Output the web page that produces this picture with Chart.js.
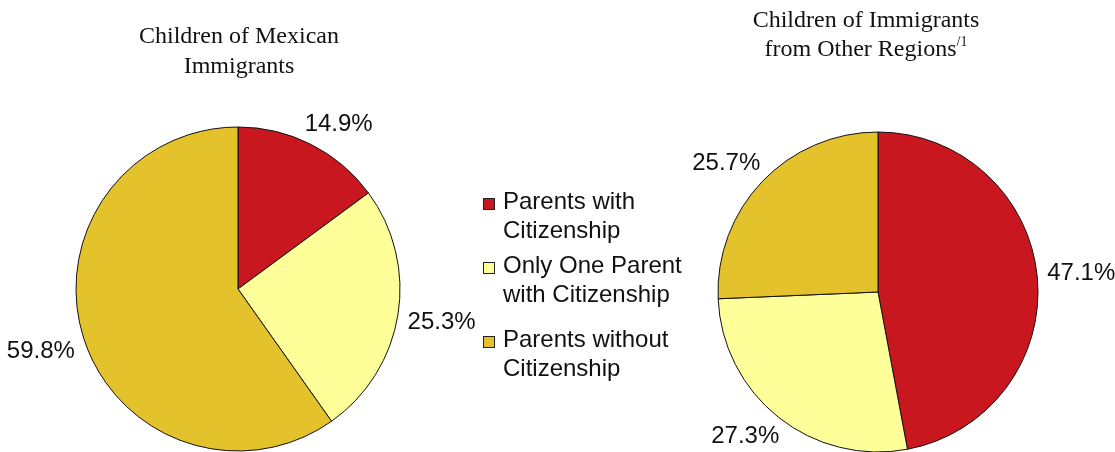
<!DOCTYPE html>
<html>
<head>
<meta charset="utf-8">
<script src="https://cdn.jsdelivr.net/npm/chart.js@4.4.1/dist/chart.umd.min.js"></script>
<style>
  html, body { margin: 0; padding: 0; background: #fff; }
  #wrap { position: relative; width: 1115px; height: 452px; overflow: hidden; }
  #wrap canvas { position: absolute; left: 0; top: 0; }
  .title {
    position: absolute; width: 400px; text-align: center;
    font-family: "Liberation Serif", "Times New Roman", serif; font-size: 24px; color: #111;
  }
  .title sup { font-size: 14px; vertical-align: 0; position: relative; top: -10px; }
  .legend-item {
    position: absolute; left: 483px; width: 230px;
    font-family: "Liberation Sans", Arial, sans-serif; font-size: 24px; line-height: 28.5px; color: #111;
  }
  .legend-item .box {
    position: absolute; left: 0; top: 11px; width: 10px; height: 10px; border: 1px solid #222;
  }
  .legend-item .txt { position: absolute; left: 20px; top: 0; white-space: nowrap; }
</style>
</head>
<body>
<div id="wrap">
  <canvas id="pieMexico" width="1115" height="452"></canvas>
  <canvas id="pieOther" width="1115" height="452"></canvas>
  <div class="title" style="left:39px; top:20px; line-height:30px;">Children of Mexican<br>Immigrants</div>
  <div class="title" style="left:666px; top:5px; line-height:28.5px;">Children of Immigrants<br>from Other Regions<sup>/1</sup></div>
  <div id="legend"></div>
</div>
<script>
// Citizenship status of parents, percent of children
const categories = ['Parents with Citizenship', 'Only One Parent with Citizenship', 'Parents without Citizenship'];
const legendLines = [['Parents with', 'Citizenship'], ['Only One Parent', 'with Citizenship'], ['Parents without', 'Citizenship']];
const mexicanValues = [14.9, 25.3, 59.8];
const otherRegionValues = [47.1, 27.3, 25.7];

const sliceColors = ['#C8171E', '#FFFF99', '#E3C22B'];

// Legend (HTML), rows placed to line up with the pies
const legendRowTops = [187, 251, 325];
const legendEl = document.getElementById('legend');
categories.forEach((name, i) => {
  const item = document.createElement('div');
  item.className = 'legend-item';
  item.style.top = legendRowTops[i] + 'px';
  item.title = name;
  const box = document.createElement('div');
  box.className = 'box';
  box.style.background = sliceColors[i];
  const txt = document.createElement('div');
  txt.className = 'txt';
  txt.innerHTML = legendLines[i].join('<br>');
  item.appendChild(box);
  item.appendChild(txt);
  legendEl.appendChild(item);
});

// Percent labels placed just outside each slice, at its middle angle
const outsideLabels = {
  id: 'outsideLabels',
  afterDatasetsDraw(chart) {
    const meta = chart.getDatasetMeta(0);
    const values = chart.data.datasets[0].data;
    const ctx = chart.ctx;
    ctx.save();
    ctx.font = '24px "Liberation Sans", Arial, sans-serif';
    ctx.fillStyle = '#111';
    ctx.textAlign = 'center';
    ctx.textBaseline = 'middle';
    const clamp = v => Math.max(-1, Math.min(1, v));
    meta.data.forEach((arc, i) => {
      const p = arc.getProps(['x', 'y', 'startAngle', 'endAngle', 'outerRadius'], true);
      const mid = (p.startAngle + p.endAngle) / 2;
      const c = Math.cos(mid), s = Math.sin(mid);
      const d = p.outerRadius + 9;
      const text = values[i].toFixed(1) + '%';
      const w = ctx.measureText(text).width;
      const h = 24;
      const ax = p.x + d * c, ay = p.y + d * s;
      const cx = ax + (w / 2 + 1) * Math.sign(c) * Math.sqrt(Math.abs(c));
      const cy = ay + (h / 2) * clamp(3 * s);
      ctx.fillText(text, cx, cy);
    });
    ctx.restore();
  }
};

function makePie(id, values, radius, padding) {
  return new Chart(document.getElementById(id), {
    type: 'pie',
    data: {
      labels: categories,
      datasets: [{
        data: values,
        backgroundColor: sliceColors,
        borderColor: '#111',
        borderWidth: 1,
        radius: radius
      }]
    },
    options: {
      responsive: false,
      animation: false,
      layout: { padding: padding },
      plugins: { legend: { display: false }, tooltip: { enabled: false }, title: { display: false } },
      events: []
    },
    plugins: [outsideLabels]
  });
}

makePie('pieMexico', mexicanValues, 162, { left: 0, right: 639, top: 126, bottom: 0 });
makePie('pieOther', otherRegionValues, 160, { left: 641, right: 0, top: 132, bottom: 0 });
</script>
</body>
</html>
